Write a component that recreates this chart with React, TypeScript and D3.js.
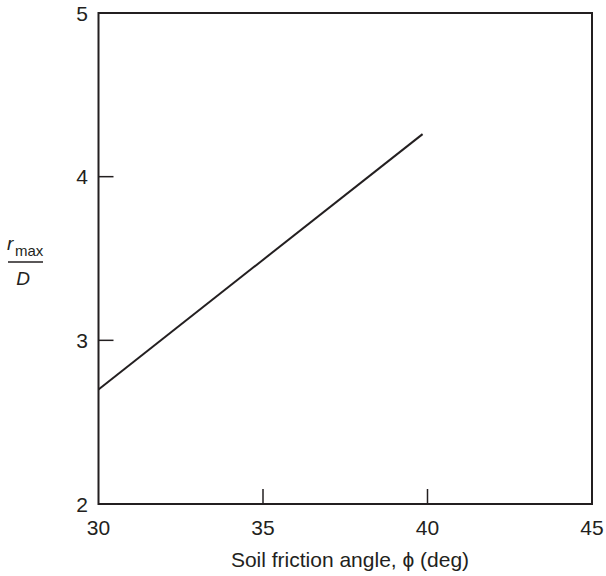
import React from "react";
import * as d3 from "d3";

const xTicks = [30, 35, 40, 45];
const yTicks = [2, 3, 4, 5];
const phiValues = [30, 39.85];
const ratioValues = [2.7, 4.26];
const xLabel = "Soil friction angle, \u03d5 (deg)";

export default function App() {
  const W = 606, H = 576;
  const left = 98.5, right = 592, top = 13, bottom = 504;
  const x = d3.scaleLinear().domain([30, 45]).range([left, right]);
  const y = d3.scaleLinear().domain([2, 5]).range([bottom, top]);
  const pts: [number, number][] = phiValues.map((p, i) => [p, ratioValues[i]]);
  const line = d3.line<[number, number]>().x(d => x(d[0])).y(d => y(d[1]));
  const font = "Arial, 'Liberation Sans', Helvetica, sans-serif";
  const col = "#231f20";
  return (
    <svg width={W} height={H} style={{ position: "absolute", left: 0, top: 0 }} fontFamily={font}>
      <rect x={0} y={0} width={W} height={H} fill="#fff" />
      <rect x={left} y={top} width={right - left} height={bottom - top} fill="none" stroke={col} strokeWidth={2} />
      {xTicks.slice(1, -1).map(t => (
        <line key={"xt" + t} x1={x(t)} x2={x(t)} y1={bottom} y2={bottom - 15} stroke={col} strokeWidth={1.5} />
      ))}
      {yTicks.slice(1, -1).map(t => (
        <line key={"yt" + t} x1={left} x2={left + 15} y1={y(t)} y2={y(t)} stroke={col} strokeWidth={1.5} />
      ))}
      {xTicks.map(t => (
        <text key={"xl" + t} x={x(t)} y={535} textAnchor="middle" fontSize={21} fill={col}>{t}</text>
      ))}
      {yTicks.map(t => (
        <text key={"yl" + t} x={88} y={y(t) + 7.5} textAnchor="end" fontSize={21} fill={col}>{t}</text>
      ))}
      <path d={line(pts) || ""} fill="none" stroke={col} strokeWidth={2} />
      <text x={350} y={567} textAnchor="middle" fontSize={21} fill={col}>{xLabel}</text>
      <text x={7} y={250} fontSize={19} fontStyle="italic" fill={col}>r</text>
      <text x={15} y={256} fontSize={15} fill={col}>max</text>
      <line x1={8} x2={43} y1={262} y2={262} stroke={col} strokeWidth={1.5} />
      <text x={23} y={285} textAnchor="middle" fontSize={19} fontStyle="italic" fill={col}>D</text>
    </svg>
  );
}
